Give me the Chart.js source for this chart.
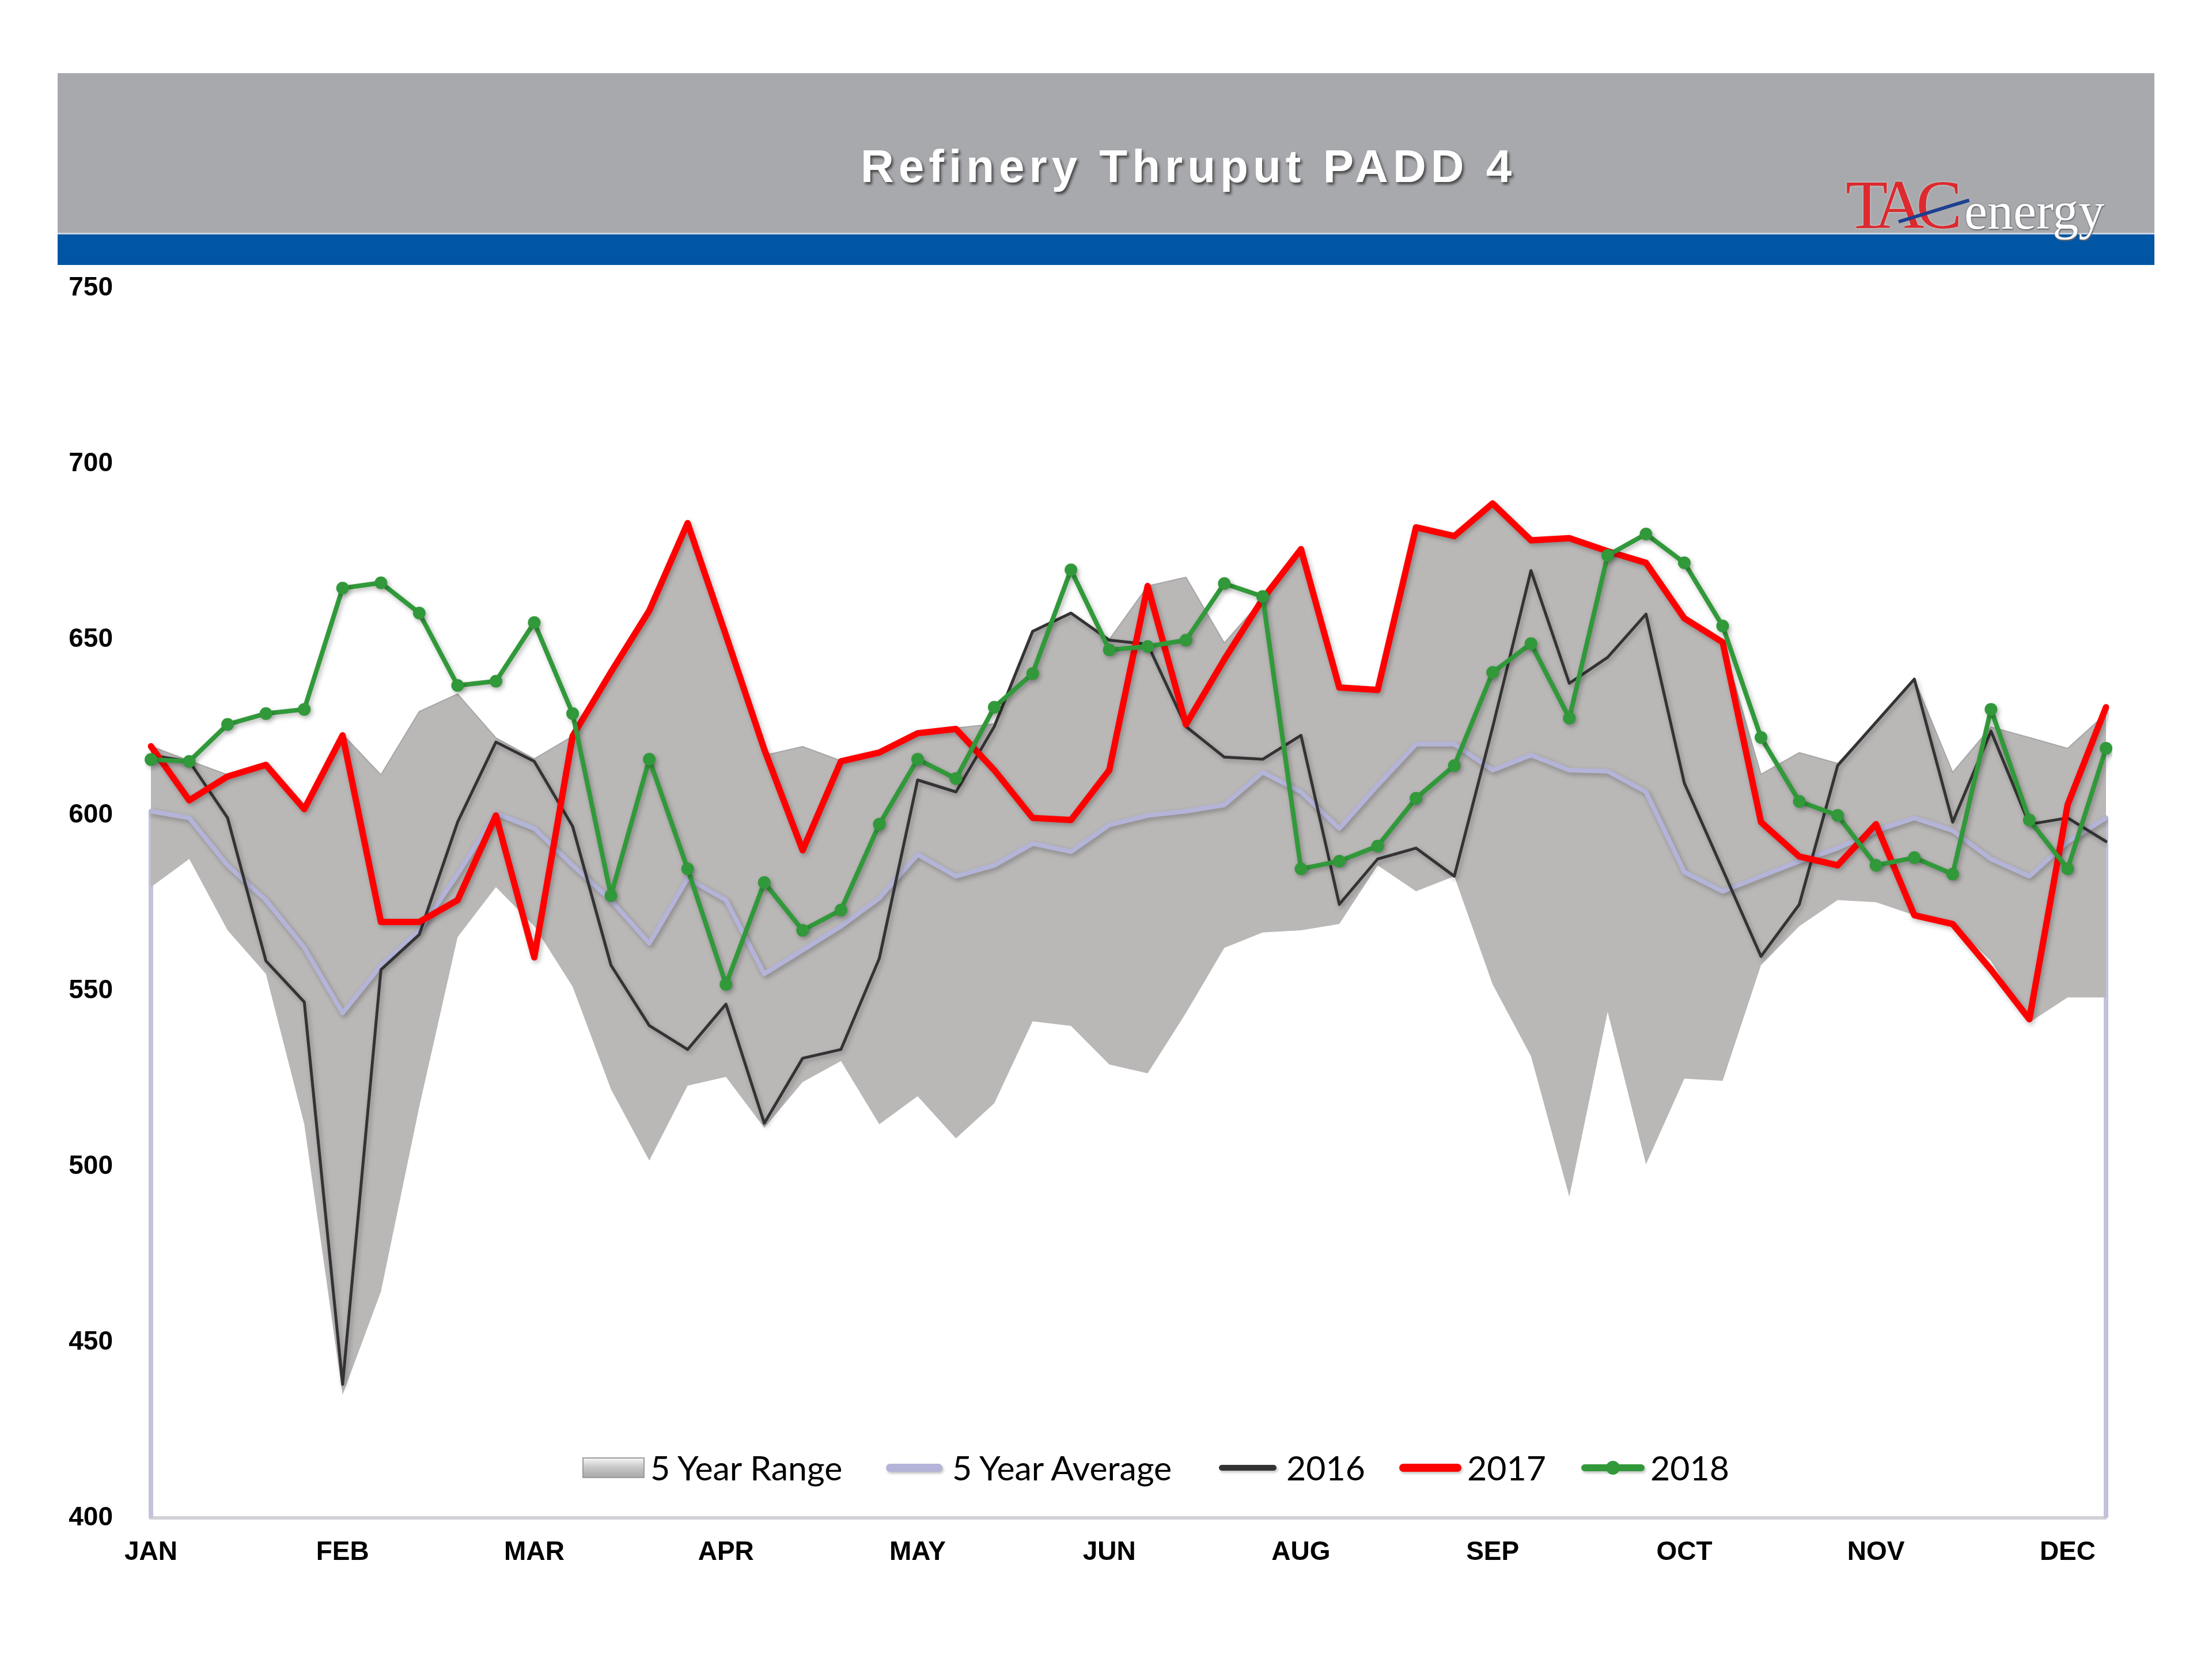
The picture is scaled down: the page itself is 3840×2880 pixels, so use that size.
<!DOCTYPE html>
<html>
<head>
<meta charset="utf-8">
<script src="https://cdn.jsdelivr.net/npm/chart.js@4.4.1/dist/chart.umd.min.js"></script>
<style>
    html, body { margin: 0; padding: 0; background: #ffffff; }
    #page { position: relative; width: 3840px; height: 2880px; overflow: hidden; background: #ffffff; }
    #chart { position: absolute; left: 0; top: 0; }
    .band-gray { position: absolute; left: 100px; top: 127px; width: 3640px; height: 277px; background: #a8a9ad; }
    .band-blue { position: absolute; left: 100px; top: 404px; width: 3640px; height: 56px; background: #0055a5; border-top: 3px solid #c9d3e4; box-sizing: border-box; }
    .title { position: absolute; left: 1494px; top: 249px; font: bold 80px 'Liberation Sans', Arial, sans-serif; line-height: 80px;
             letter-spacing: 8px; color: #ffffff; white-space: nowrap; text-shadow: 3px 4px 4px rgba(40,40,40,0.75); }
    .logo-tac { position: absolute; left: 3204px; top: 296px; font: 120px 'Liberation Serif', 'Times New Roman', serif; line-height: 120px;
                letter-spacing: -14px; color: #dc2a2e; white-space: nowrap; text-shadow: 0 0 3px rgba(255,255,255,0.7); }
    .logo-energy { position: absolute; left: 3410px; top: 322px; font: 90px 'Liberation Serif', 'Times New Roman', serif; line-height: 90px;
                   color: #ffffff; white-space: nowrap; text-shadow: 0 0 3px #6b6b70, 1px 2px 2px #6b6b70; }
    .logo-slash { position: absolute; left: 3296px; top: 382px; width: 128px; height: 6px; background: #1d3f8f;
                  transform-origin: 0 50%; transform: rotate(-17deg); }
    .legend { position: absolute; top: 2520px; height: 56px; font: 59px Lato, 'Liberation Sans', sans-serif; color: #000; }
    .legend span { position: absolute; top: 0; line-height: 56px; white-space: nowrap; }
    .sw { position: absolute; }
</style>
</head>
<body>
<div id="page">
    <canvas id="chart" width="3840" height="2880"></canvas>
    <div class="band-gray"></div>
    <div class="band-blue"></div>
    <div class="title">Refinery Thruput PADD 4</div>
    <div class="logo-tac">TAC</div>
    <div class="logo-slash"></div>
    <div class="logo-energy">energy</div>
    <div class="legend" id="legend"></div>
</div>
<script>
// semaines (52), étiquettes de mois tous les 5 points
const weekLabels = [
    'JAN', '', '', '', '', 'FEB', '', '', '', '', 'MAR', '', '', '', '', 'APR', '', '', '', '',
    'MAY', '', '', '', '', 'JUN', '', '', '', '', 'AUG', '', '', '', '', 'SEP', '', '', '', '',
    'OCT', '', '', '', '', 'NOV', '', '', '', '', 'DEC', ''
];

const rangeLow = [
    579.5, 587.5, 567.2, 554.8, 512, 435, 464.4, 517, 565.3, 579.5, 568.4, 551.2, 522,
    501.7, 523, 525.5, 511, 524, 530, 512, 520, 508, 518, 541.3, 540, 529,
    526.5, 543.7, 562.2, 566.6, 567.2, 569, 585.7, 578.3, 582.6, 551.8, 531.4, 491.4, 544,
    500.6, 525, 524.4, 557.3, 568.4, 575.8, 575.2, 571.5, 569, 558.5, 541, 548.1, 548.1
];
const rangeHigh = [
    619.6, 615.5, 611.5, 614.5, 602, 623, 611.5, 629.5, 634.5, 622, 616, 622.5, 640.7,
    658.2, 683.1, 651.2, 617, 619.5, 615.5, 618, 623.5, 624.8, 626, 652.5, 657.5, 650,
    665.2, 667.7, 649, 661.5, 675.7, 636.5, 635.8, 682, 679.4, 688.7, 678.2, 678.8, 675.1,
    671.8, 656, 649.2, 611.6, 617.8, 614.7, 626.4, 638.7, 612.2, 625.1, 622.1, 619, 628.9
];
const avg5 = [
    601.1, 599.2, 585.7, 575.8, 562.3, 543.7, 557.3, 567.2, 583.2, 600.5, 596.2, 585.7, 575.8,
    563.5, 582, 575.8, 554.8, 561.6, 568.4, 576.4, 588.8, 582.6, 585.7, 591.9, 589.6, 597.2,
    599.9, 601.1, 602.9, 612.2, 606.6, 596.2, 608.5, 620.2, 620.2, 612.8, 617.1, 612.8, 612.5,
    606.6, 583.8, 578.3, 582.6, 586.9, 590.6, 595.6, 599.2, 595.6, 587.5, 582.6, 592.5, 599.2
];
const y2016 = [
    617, 615.3, 599.2, 558.5, 546.8, 438, 556, 566, 598, 620.8, 615.3, 596.8, 557.3,
    540.1, 533.3, 546.2, 512.3, 530.8, 533.3, 559.2, 610, 606.6, 625.2, 652.3, 657.5, 649.8,
    648.6, 625.2, 616.5, 615.9, 622.7, 574.6, 587.5, 590.6, 582.6, 625, 669.6, 637.5, 644.9,
    657.2, 609.1, 584.5, 559.8, 574.6, 614.1, 626.4, 638.7, 598, 623.9, 597.4, 599.2, 592.5
];
const y2017 = [
    619.6, 604.2, 611, 614.3, 601.7, 622.7, 569.6, 569.6, 575.8, 599.9, 559.5, 622.5, 640.7,
    658.2, 683.1, 651.2, 618.7, 590, 615.3, 617.8, 623.3, 624.5, 612.8, 599.2, 598.6, 612.8,
    665.2, 625.8, 644.3, 661.5, 675.7, 636.3, 635.6, 681.9, 679.4, 688.7, 678.2, 678.8, 675.1,
    671.8, 656, 649.2, 598, 588.2, 585.7, 597.4, 571.5, 569, 556, 541.9, 603, 630.7
];
const y2018 = [
    615.8, 615.3, 625.8, 628.9, 630.1, 664.6, 666.1, 657.5, 636.9, 638.1, 654.8, 628.9, 577.1,
    615.9, 584.7, 551.8, 580.8, 567.2, 573, 597.4, 615.9, 610.4, 630.7, 640.3, 669.8, 647,
    648, 649.8, 665.9, 662.2, 584.7, 586.9, 591.2, 604.8, 614.1, 640.6, 648.8, 627.6, 673.9,
    680, 671.8, 653.8, 622.1, 603.9, 599.9, 585.7, 587.9, 583.2, 630.1, 598.6, 584.7, 619
];

const seriesNames = ['5 Year Range', '5 Year Average', '2016', '2017', '2018'];

const colRange = '#bab7b7';
const colAvg = '#b4b4d8';
const col2016 = '#333333';
const col2017 = '#ff0000';
const col2018 = '#31993a';

// Ombre douce sur les courbes (style Excel)
const shadowPlugin = {
    id: 'shadowLines',
    beforeDatasetDraw(chart, args) {
        if (args.index < 2) return;
        const ctx = chart.ctx;
        ctx.save();
        ctx.shadowColor = 'rgba(0,0,0,0.28)';
        ctx.shadowBlur = 8;
        ctx.shadowOffsetX = 3;
        ctx.shadowOffsetY = 4;
    },
    afterDatasetDraw(chart, args) {
        if (args.index < 2) return;
        chart.ctx.restore();
    }
};

// Traits verticaux de la moyenne aux deux extrémités
const dropLines = {
    id: 'dropLines',
    beforeDatasetsDraw(chart) {
        const { ctx, scales: { x, y } } = chart;
        const ends = [0, avg5.length - 1];
        ctx.save();
        ctx.strokeStyle = '#c2c2da';
        ctx.lineWidth = 8;
        ends.forEach(i => {
            const px = x.getPixelForValue(i);
            ctx.beginPath();
            ctx.moveTo(px, y.getPixelForValue(avg5[i]));
            ctx.lineTo(px, y.bottom);
            ctx.stroke();
        });
        ctx.restore();
    }
};

const ctx = document.getElementById('chart').getContext('2d');
new Chart(ctx, {
    type: 'line',
    data: {
        labels: weekLabels,
        datasets: [
            { label: 'range-low', data: rangeLow, borderWidth: 0, borderColor: 'rgba(0,0,0,0)', pointRadius: 0, fill: false, order: 6 },
            { label: seriesNames[0], data: rangeHigh, borderWidth: 2, borderColor: 'rgba(150,147,147,0.7)', backgroundColor: colRange, pointRadius: 0, fill: 0, order: 5 },
            { label: seriesNames[1], data: avg5, borderColor: colAvg, borderWidth: 8, pointRadius: 0, order: 4 },
            { label: seriesNames[2], data: y2016, borderColor: col2016, borderWidth: 5, pointRadius: 0, order: 3 },
            { label: seriesNames[3], data: y2017, borderColor: col2017, borderWidth: 11, pointRadius: 0, order: 2 },
            { label: seriesNames[4], data: y2018, borderColor: col2018, borderWidth: 8, pointRadius: 11,
              pointBackgroundColor: col2018, pointBorderColor: col2018, pointBorderWidth: 0, order: 1 }
        ]
    },
    options: {
        responsive: false,
        animation: false,
        devicePixelRatio: 1,
        elements: { line: { tension: 0, borderJoinStyle: 'round', borderCapStyle: 'round' } },
        layout: { padding: { left: 100, right: 184, top: 500, bottom: 45 } },
        plugins: {
            legend: { display: false },
            tooltip: { enabled: false }
        },
        scales: {
            x: {
                grid: { display: false, drawTicks: false },
                border: { display: true, color: '#d2d2d6', width: 6 },
                ticks: {
                    autoSkip: false, maxRotation: 0, minRotation: 0, padding: 33, color: '#000000',
                    font: { family: "'Liberation Sans', Arial, sans-serif", weight: 'bold', size: 46 }
                },
                afterFit: scale => { scale.height = 200; }
            },
            y: {
                min: 400,
                max: 750,
                grid: { display: false, drawTicks: false },
                border: { display: false },
                ticks: {
                    stepSize: 50, padding: 66, color: '#000000',
                    font: { family: "'Liberation Sans', Arial, sans-serif", weight: 'bold', size: 46 }
                },
                afterFit: scale => { scale.width = 162; }
            }
        }
    },
    plugins: [dropLines, shadowPlugin]
});

// Légende (HTML) dans la zone du graphique
const legendItems = [
    { name: seriesNames[0], sw: 1011, swW: 108, txt: 1129, kind: 'box' },
    { name: seriesNames[1], sw: 1538, swW: 98, txt: 1653, kind: 'line', color: colAvg, h: 14 },
    { name: seriesNames[2], sw: 2116, swW: 100, txt: 2233, kind: 'line', color: col2016, h: 10 },
    { name: seriesNames[3], sw: 2429, swW: 108, txt: 2547, kind: 'line', color: col2017, h: 14 },
    { name: seriesNames[4], sw: 2745, swW: 110, txt: 2865, kind: 'marker', color: col2018, h: 12 }
];
const legend = document.getElementById('legend');
legendItems.forEach(item => {
    const sw = document.createElement('div');
    sw.className = 'sw';
    if (item.kind === 'box') {
        sw.style.cssText = `left:${item.sw}px;top:10px;width:${item.swW}px;height:36px;box-sizing:border-box;` +
            'border:2px solid #9c9c9c;background:linear-gradient(#f4f4f4 0%, #c9c9c9 45%, #a9a9a9 100%);';
    } else {
        sw.style.cssText = `left:${item.sw}px;top:${28 - item.h / 2}px;width:${item.swW}px;height:${item.h}px;` +
            `background:${item.color};border-radius:${item.h / 2}px;box-shadow:2px 3px 4px rgba(0,0,0,0.25);`;
        if (item.kind === 'marker') {
            const dot = document.createElement('div');
            dot.style.cssText = `position:absolute;left:${item.swW / 2 - 12}px;top:${item.h / 2 - 12}px;width:24px;height:24px;border-radius:12px;background:${item.color};`;
            sw.appendChild(dot);
        }
    }
    legend.appendChild(sw);
    const t = document.createElement('span');
    t.style.left = item.txt + 'px';
    t.textContent = item.name;
    legend.appendChild(t);
});
</script>
</body>
</html>
